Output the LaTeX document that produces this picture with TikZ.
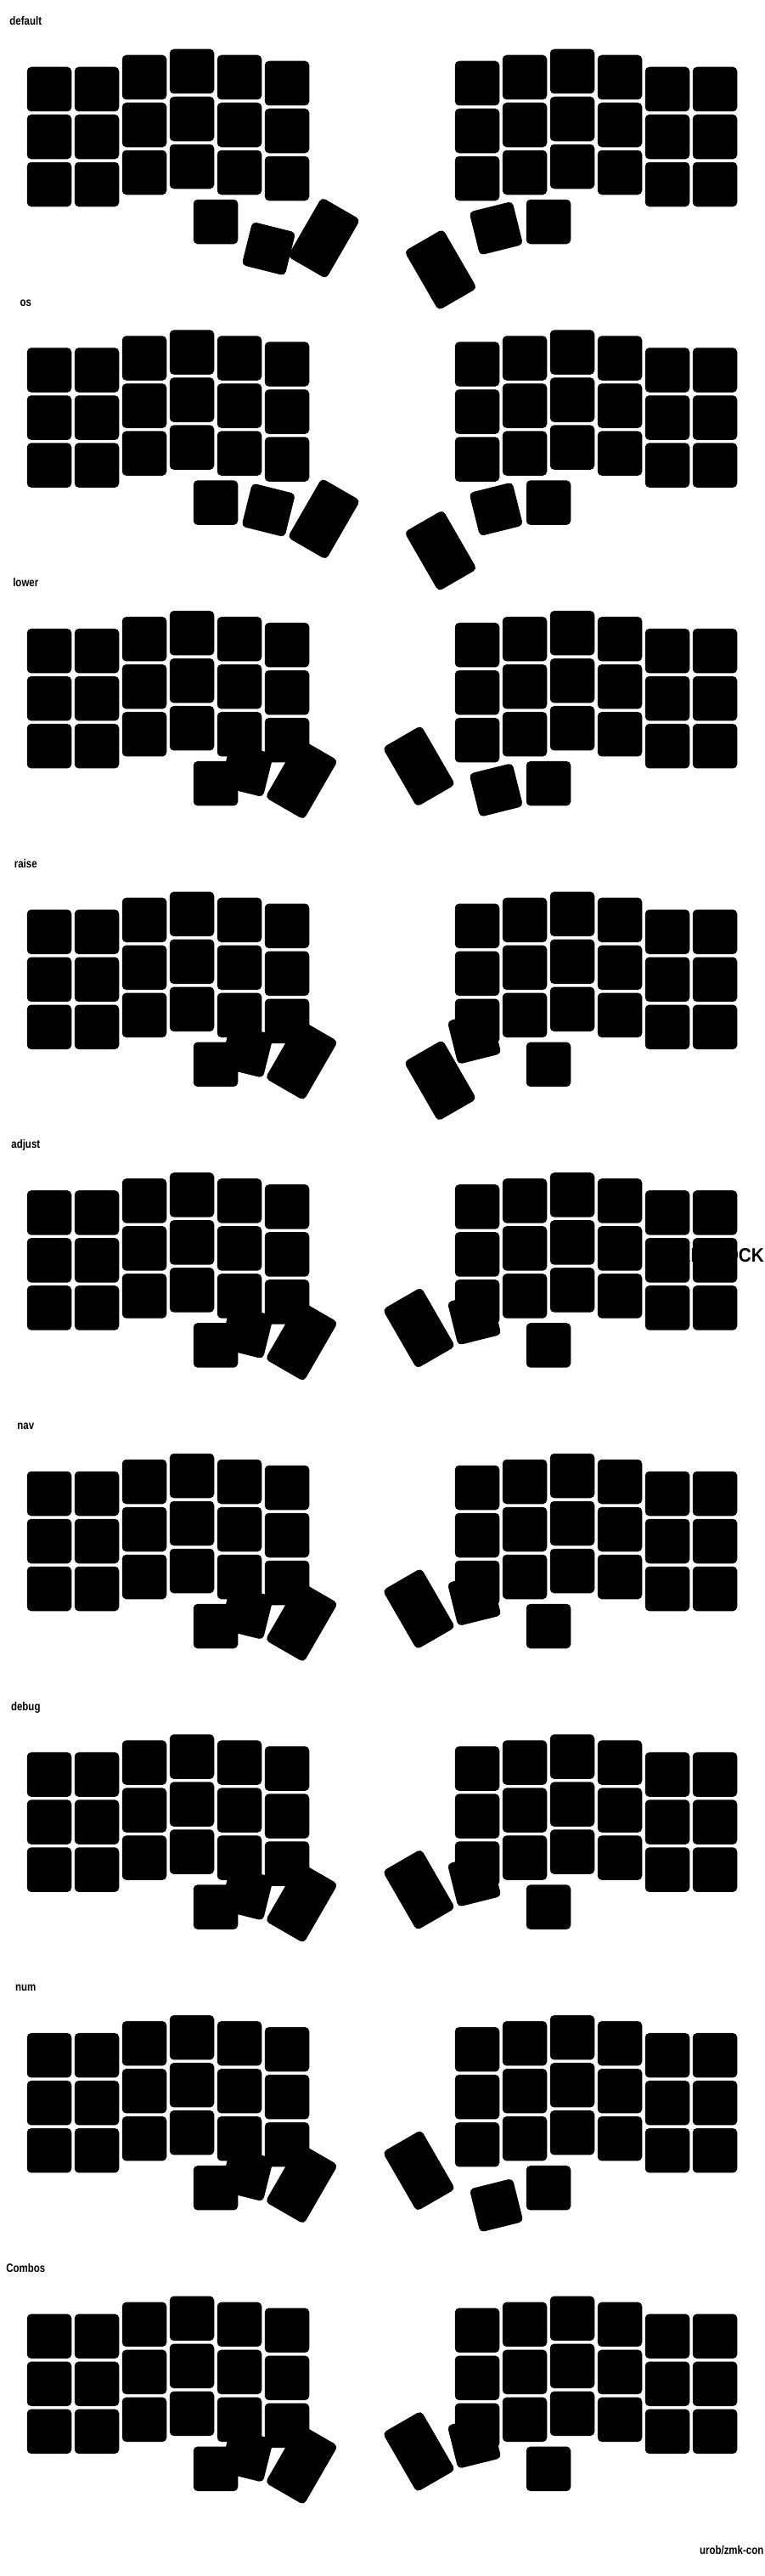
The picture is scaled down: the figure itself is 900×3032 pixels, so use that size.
\documentclass[tikz,border=0pt]{standalone}
\usepackage{fontspec}
\setmainfont{Liberation Sans}
\newfontfamily\lblfont[FakeStretch=0.82]{Liberation Sans Bold}
\newfontfamily\capfont[FakeStretch=0.9]{Liberation Sans Bold}
\begin{document}
\begin{tikzpicture}[x=1pt,y=-1pt,
  key/.style={fill=black, rounded corners=5pt, inner sep=0pt, outer sep=0pt,
              minimum width=52.5pt, minimum height=52.5pt},
  tallkey/.style={key, minimum height=80.5pt},
  lbl/.style={font=\lblfont\fontsize{14}{16}\selectfont, inner sep=0pt, anchor=base}]
\path[use as bounding box] (0,0) rectangle (900,3032);
\clip (0,0) rectangle (900,3032);
\fill[white] (0,0) rectangle (900,3032);

\foreach \li/\nm/\ax/\ay/\bx/\by/\cx/\cy/\ex/\ey in {
 0/default/316.4/292.7/381.5/280.2/584.3/268.7/519/317.5,
 1/os/316.2/269.8/381.5/280.2/584.3/268.7/519/317.5,
 2/lower/290.6/245.2/355.2/255.6/584.3/268.7/493.4/240.6,
 3/raise/290.6/245.2/355.2/255.6/558.6/229.2/518.5/280,
 4/adjust/290.6/245.2/355.2/255.6/558.6/229.2/493.4/240.6,
 5/nav/290.6/245.2/355.2/255.6/558.6/229.2/493.4/240.6,
 6/debug/290.6/245.2/355.2/255.6/558.6/229.2/493.4/240.6,
 7/num/290.6/245.2/355.2/255.6/584.6/281.5/493.4/240.6,
 8/Combos/290.6/245.2/355.2/255.6/558.6/229.2/493.4/240.6}
{
 \begin{scope}[shift={(0,{330.6*\li})}]
  \node[lbl] (lab\li) at (30.3,29.4) {\nm};
  % left half grid
  \foreach \c/\t in {0/105,1/105,2/91,3/84,4/91,5/98}
   \foreach \r in {0,1,2}
    \node[key] (k\li-L\c-\r) at ({58+56*\c},{\t+56*\r}) {};
  % right half grid
  \foreach \c/\t in {0/98,1/91,2/84,3/91,4/105,5/105}
   \foreach \r in {0,1,2}
    \node[key] (k\li-R\c-\r) at ({562+56*\c},{\t+56*\r}) {};
  % thumbs
  \node[key] (k\li-LT1) at (254,261) {};
  \node[key, rotate=-14] (k\li-LT2) at (\ax,\ay) {};
  \node[tallkey, rotate=-30] (k\li-LT3) at (\bx,\by) {};
  \node[key] (k\li-RT1) at (646,261) {};
  \node[key, rotate=14] (k\li-RT2) at (\cx,\cy) {};
  \node[tallkey, rotate=30] (k\li-RT3) at (\ex,\ey) {};
 \end{scope}
}

\node[font=\capfont\fontsize{23}{25}\selectfont, inner sep=0pt, anchor=base east]
  (capslock) at (900,1485) {CAPSLOCK};
\node[lbl, anchor=base east] (footer) at (899.5,3006) {urob/zmk-con};
\end{tikzpicture}
\end{document}
